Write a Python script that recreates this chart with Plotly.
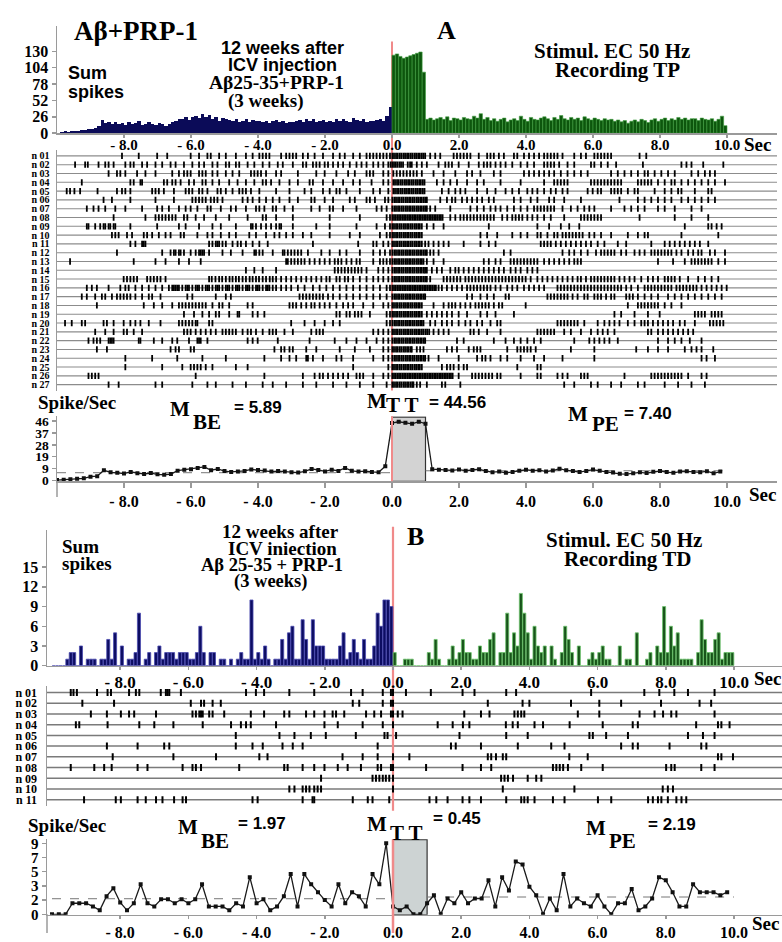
import numpy as np
import plotly.graph_objects as go

# ======================= DATA =======================
# ---- Panel A : Sum spikes, 0.1 s bins (-10..0 and 0..10 s)
HIST_A_PRE = [0, 2, 3, 2, 3, 3, 4, 5, 5, 7, 6, 8, 12, 21, 16, 17, 15, 18, 14, 16, 13,
              17, 14, 16, 20, 13, 15, 18, 14, 13, 16, 15, 12, 14, 17, 20, 23, 22, 25, 21, 26,
              27, 24, 30, 25, 29, 22, 26, 20, 24, 22, 21, 19, 23, 18, 20, 22, 17, 21, 19, 20,
              18, 20, 16, 19, 21, 17, 19, 16, 18, 17, 19, 21, 18, 23, 20, 22, 17, 19, 21, 18,
              20, 17, 22, 19, 23, 20, 18, 24, 21, 19, 22, 18, 20, 19, 21, 23, 20, 27, 42]
HIST_A_POST = [124, 126, 122, 119, 121, 123, 125, 127, 129, 97,
               22, 24, 21, 23, 25, 22, 26, 20, 24, 23,
               21, 25, 23, 22, 27, 24, 31, 22, 25, 20,
               23, 19, 22, 24, 18, 21, 23, 20, 27, 22,
               19, 25, 22, 21, 24, 26, 23, 20, 25, 22,
               28, 23, 21, 25, 22, 24, 20, 26, 23, 21,
               24, 22, 20, 23, 21, 22, 19, 21, 18, 20,
               16, 19, 21, 18, 22, 20, 17, 21, 23, 19,
               22, 24, 20, 23, 21, 25, 22, 24, 21, 23,
               23, 20, 24, 22, 21, 23, 19, 22, 27, 12]
# ---- Panel A : Spike/Sec, 0.2 s bins
RATE_A_PRE = [0.2, 0.5, 0.8, 1.2, 1.5, 2.8, 3.2, 7.8, 6.2, 5.8,
              5.3, 6.5, 5.5, 4.9, 5.6, 4.6, 4.3, 4.8, 7.5, 8.2,
              8.5, 9.6, 10.4, 7.8, 8.8, 7.2, 6.5, 6.9, 7.3, 8.4,
              8.0, 7.6, 6.8, 7.2, 6.9, 6.3, 6.0, 7.0, 8.8, 8.0,
              6.9, 8.2, 7.3, 9.6, 7.4, 6.8, 7.1, 6.5, 6.2, 11.0]
RATE_A_POST = [44.5, 45.5, 44.8, 43.9, 45.6, 44.0,
               8.6, 8.2, 8.0, 7.7, 8.3, 7.5, 8.0, 8.6, 7.2, 6.3,
               6.8, 5.8, 6.5, 7.4, 8.2, 7.5, 7.9, 6.8, 7.6, 9.0,
               7.8, 7.2, 6.4, 7.3, 8.3, 7.4, 6.5, 6.0, 5.0, 4.8,
               5.5, 6.2, 5.6, 6.6, 7.2, 6.4, 5.8, 6.8, 7.0, 6.5,
               6.2, 7.1, 5.4, 6.8]
M_A_BE, M_A_TT, M_A_PE = 5.89, 44.56, 7.40

# ---- Panel A raster: spike times (centiseconds) of neurons n01..n27
RASTER_A = [
    [-806,-756,-701,-671,-601,-576,-551,-541,-516,-496,-466,-436,-416,-396,-386,-376,-366,-331,-316,-306,-296,-286,-266,-251,-231,-206,-176,-156,-141,-116,-96,-76,-66,-56,-46,-36,-26,-16,-6,
     1,6,12,17,23,28,34,39,45,50,56,61,67,72,78,83,89,94,99,114,129,144,184,194,204,214,224,234,259,284,294,304,319,334,364,374,394,409,424,439,454,464,474,484,494,509,544,564,579,604,614,624,634,644,654,739,759],
    [-946,-916,-908,-876,-856,-846,-831,-796,-781,-771,-746,-731,-706,-686,-661,-646,-621,-596,-576,-561,-536,-521,-496,-486,-466,-456,-431,-411,-386,-366,-341,-326,-296,-266,-256,-236,-226,-216,-201,-191,-176,-161,-146,-126,-106,-91,-76,-56,-41,-26,-11,-4,
     1,6,11,16,22,27,33,47,54,59,74,89,104,139,159,169,179,199,229,259,274,284,294,309,324,339,359,384,404,424,454,464,474,484,499,524,544,594,604,624,644,669,749,864,879,894,929,989],
    [-846,-821,-811,-796,-761,-736,-706,-656,-636,-621,-611,-601,-576,-566,-556,-536,-521,-496,-476,-456,-421,-411,-401,-391,-376,-346,-331,-281,-226,-201,-166,-131,-111,-76,-66,-56,-26,-11,
     4,14,24,34,44,54,64,74,89,124,154,189,224,239,264,304,324,394,409,424,439,454,469,484,504,524,544,564,584,654,674,694,714,734,754,764,784,804,824,844,894,914,934,949,964],
    [-926,-781,-771,-751,-746,-681,-671,-656,-646,-631,-606,-591,-566,-556,-536,-516,-486,-461,-436,-411,-386,-376,-361,-336,-306,-281,-246,-236,-206,-176,-146,-116,-96,-61,-26,-11,
     4,9,15,20,26,31,37,42,48,53,59,64,70,75,81,86,92,97,134,154,174,194,224,254,274,324,384,454,484,494,504,514,524,594,604,614,624,634,644,654,664,674,684,734,744,754,764,774,794,814,834,844,864,884,904,924,944,964,994],
    [-971,-961,-948,-931,-879,-821,-806,-796,-781,-716,-706,-696,-681,-651,-616,-606,-596,-576,-566,-551,-521,-511,-496,-476,-456,-446,-436,-421,-396,-346,-306,-261,-241,-206,-186,-166,-156,-136,-96,-56,-36,-11,
     4,9,15,20,26,31,37,42,48,53,59,64,70,75,81,86,92,97,149,169,189,204,219,254,284,309,339,359,379,404,419,434,454,474,489,509,524,584,599,614,624,654,664,674,684,704,724,734,784,814,834,854,864,904,944,954],
    [-861,-836,-781,-706,-651,-596,-586,-576,-566,-556,-541,-531,-521,-506,-446,-431,-416,-396,-376,-356,-336,-306,-281,-241,-231,-201,-176,-126,-111,-76,-66,-51,-21,-11,
     1,7,12,18,23,29,34,40,45,51,56,62,67,73,78,84,89,95,100,104,144,164,179,189,209,224,239,254,269,289,304,364,384,414,434,469,484,514,564,679,734,754,774,794,814,834,864,884,904,924,944,964],
    [-911,-891,-876,-856,-826,-796,-746,-701,-686,-666,-636,-616,-601,-581,-551,-541,-511,-481,-466,-436,-406,-396,-381,-356,-346,-321,-296,-241,-216,-186,-176,-146,-106,-46,-31,-16,
     1,7,12,18,23,29,34,40,45,51,56,62,67,73,78,84,89,95,100,104,114,129,174,234,254,274,294,309,324,344,364,384,404,424,434,444,454,464,474,484,509,534,554,574,589,604,654,694,714,734,754,794,814,844,894,924],
    [-831,-736,-706,-696,-686,-676,-666,-656,-646,-621,-611,-586,-561,-526,-486,-431,-386,-376,-346,-296,-186,-96,-16,-6,
     1,6,11,16,21,26,31,36,41,46,51,56,61,66,71,76,81,86,91,96,101,106,111,116,121,126,131,136,141,146,151,174,189,204,214,224,234,244,254,264,274,284,294,304,329,344,359,369,379,389,404,419,434,454,474,514,564,574,584,594,604,614,624,739,844,894,944],
    [-911,-906,-886,-871,-861,-856,-846,-841,-831,-826,-781,-701,-636,-616,-576,-536,-511,-466,-421,-416,-406,-391,-376,-361,-346,-336,-331,-296,-226,-186,-106,-46,-21,-6,
     1,6,12,17,23,28,34,39,45,50,56,61,67,72,78,83,89,104,124,154,289,434,469,504,529,559,874,944,954,969,984],
    [-836,-826,-816,-791,-776,-741,-731,-716,-696,-676,-661,-631,-621,-581,-551,-536,-511,-486,-466,-426,-406,-376,-351,-336,-316,-296,-266,-241,-186,-126,-96,-36,-16,-6,
     1,6,12,17,23,28,34,39,45,50,56,61,67,72,78,83,89,264,284,314,359,384,404,434,444,464,484,494,509,519,529,539,549,559,569,589,604,624,654,704,734,754,764,864,974],
    [-781,-766,-746,-741,-736,-546,-536,-526,-521,-516,-506,-496,-476,-461,-451,-436,-416,-396,-371,-236,-101,-56,-46,-26,-11,
     1,6,12,17,23,28,34,39,45,50,56,61,67,72,78,83,89,99,109,124,139,154,169,214,264,289,309,444,454,464,474,489,504,519,534,549,564,579,594,614,634,674,699,774,814,829,844,859,874,889,904,919,944],
    [-821,-686,-661,-651,-646,-636,-631,-621,-601,-586,-576,-571,-566,-561,-546,-506,-481,-446,-411,-406,-396,-386,-356,-326,-321,-311,-301,-291,-281,-271,-251,-211,-186,-156,-136,-96,-56,-36,-21,-6,
     1,7,12,18,23,29,34,40,45,51,56,62,67,73,78,84,89,95,100,104,114,124,139,334,354,509,529,544,564,584,609,624,634,644,654,664,684,699,724,739,754,774,784,794,804,814,824,834,849,864,884,899,914,924,949,964,994],
    [-961,-771,-706,-676,-636,-606,-571,-316,-311,-301,-291,-281,-271,-261,-246,-231,-216,-201,-186,-171,-161,-151,-136,-121,-106,-96,-56,-36,-26,-16,-6,
     1,7,12,18,23,29,34,40,45,51,56,62,67,73,78,84,89,94,104,124,154,274,289,309,324,354,364,374,384,394,404,414,424,434,454,469,484,499,514,529,544,554,564,794,839,874,894,904,914,924,934,944,954,974,994],
    [-436,-411,-386,-346,-171,-161,-151,-141,-131,-121,-111,-101,-91,-76,-41,-26,-11,
     1,7,12,18,23,29,34,40,45,51,56,62,67,73,78,84,89,95,99,104,119,134,149,174,189,199,214,229,244,259,274,289,304,319,334,354,369,384,404,419,434],
    [-801,-791,-781,-771,-761,-731,-721,-711,-701,-691,-676,-546,-538,-527,-516,-507,-496,-485,-476,-466,-457,-446,-436,-425,-416,-406,-397,-386,-376,-365,-356,-346,-331,-316,-301,-286,-271,-256,-241,-226,-211,-196,-186,-166,-156,-141,-131,-116,-96,-76,-56,-41,-26,-11,
     1,7,12,18,23,29,34,40,45,51,56,62,67,73,78,84,89,95,100,104,114,154,164,174,184,194,204,219,229,239,249,259,269,279,289,299,309,319,329,339,349,359,369,379,389,399,414,434,449,464,479,494,509,524,539,554,564,579,594,604,614,624,634,644,654,664,679,694,709,724,744,764,779,794,814,824,834,844,859,884,914,934,954,974],
    [-911,-896,-881,-846,-811,-796,-786,-766,-746,-726,-706,-686,-666,-656,-651,-646,-641,-636,-626,-616,-611,-606,-596,-586,-581,-576,-566,-556,-551,-546,-536,-526,-521,-516,-506,-496,-491,-486,-476,-466,-461,-456,-446,-436,-431,-426,-416,-406,-401,-396,-386,-376,-371,-366,-356,-346,-331,-316,-301,-281,-261,-236,-216,-196,-176,-156,-136,-116,-96,-76,-56,-36,-16,-6,
     1,6,11,16,21,26,31,36,41,46,51,56,61,66,71,76,81,86,91,96,101,106,111,116,121,126,131,139,149,164,179,194,209,224,234,244,254,264,274,284,294,309,324,344,359,374,394,409,424,439,454,494,504,514,524,534,544,554,564,574,584,594,604,614,624,634,644,654,664,674,684,699,714,734,754,764,774,784,794,804,814,824,834,849,859,869,879,889,899,909,924,939,954,969,984,999],
    [-926,-911,-886,-866,-856,-836,-821,-811,-801,-791,-781,-766,-746,-726,-716,-691,-611,-596,-526,-496,-481,-276,-266,-256,-246,-236,-226,-216,-206,-191,-176,-156,-136,-116,-96,-76,-56,-36,-16,
     1,7,12,18,23,29,34,40,45,51,56,62,67,73,78,84,89,95,99,224,239,264,284,304,339,349,464,474,484,494,504,514,524,539,554,574,584,604,614,624,639,654,664,699,709,719,734,754,774,794,824,844,864,884,904,924,944,964,984],
    [-881,-741,-711,-686,-656,-636,-626,-616,-606,-596,-586,-576,-566,-556,-536,-516,-506,-486,-431,-416,-306,-296,-286,-271,-256,-241,-231,-216,-201,-186,-166,-146,-131,-116,-86,-56,-26,-11,
     1,6,12,17,23,28,34,39,45,50,56,61,67,72,78,83,89,124,154,169,179,189,204,219,234,249,259,269,279,289,304,319,329,399,704,734,744,754,764,774,784,794,814,834,864],
    [-621,-591,-566,-546,-526,-516,-486,-461,-456,-416,-401,-381,-166,-156,-136,-126,-111,-101,-91,-66,-16,-6,
     1,6,12,17,23,28,34,39,45,50,56,61,67,72,78,83,89,104,119,134,149,164,179,199,224,264,284,309,364,664,684,724,764,799,904,914,924,934,954,964,974,984],
    [-976,-956,-926,-916,-861,-851,-831,-801,-781,-766,-751,-726,-691,-636,-626,-616,-606,-596,-586,-581,-546,-536,-301,-261,-231,-201,-176,-156,-16,-6,
     1,7,12,18,23,29,34,40,45,51,56,62,67,73,78,84,89,94,114,129,149,164,179,199,219,234,254,269,294,314,324,494,504,514,524,534,544,554,574,614,634,649,664,679,704,724,744,754,764,779,794,809,824,839,859,874,904,949,959,969,979,989],
    [-886,-856,-831,-801,-791,-771,-746,-621,-611,-601,-586,-571,-556,-541,-526,-506,-496,-486,-476,-466,-446,-431,-421,-406,-386,-366,-356,-346,-321,-296,-241,-226,-216,-206,-56,-41,-26,-11,
     1,6,12,17,23,28,34,39,45,50,56,61,67,72,78,83,89,94,100,105,111,124,139,154,169,234,244,259,284,324,434,444,454,464,474,484,514,534,564,594,614,629,644,664,764,774,794,809,824,839,854,869,884,899],
    [-906,-891,-881,-871,-846,-841,-836,-831,-756,-751,-711,-686,-656,-641,-606,-581,-576,-571,-551,-431,-416,-401,-341,-246,-171,-136,-106,-76,-46,-26,-11,
     1,7,12,18,23,29,34,40,45,51,56,62,67,73,78,84,89,95,99,194,214,304,339,364,384,404,424,444,544,589,604,619,634,649,674,794,824,844,864,889,924],
    [-881,-851,-661,-646,-636,-601,-591,-351,-331,-321,-306,-296,-256,-226,-156,-111,-66,-26,-11,
     1,6,12,17,23,28,34,39,45,50,56,59,74,84,94,164,179,194,229,244,254,264,344,374,384,394,404,414,429,534,604,729,764,794,824,874,894,909,924,959],
    [-796,-716,-641,-566,-496,-381,-331,-306,-286,-256,-251,-236,-206,-166,-151,-116,-56,-26,-11,
     1,7,12,18,23,29,34,40,45,51,56,62,67,73,78,84,89,95,99,109,139,199,254,269,279,294,324,344,384,424,454,509,604,924,939,964],
    [-796,-686,-626,-601,-591,-581,-571,-556,-536,-466,-431,-116,-11,
     1,6,12,17,23,28,34,39,45,50,56,61,67,72,78,83,89,149,164,174,184,199,214,224,374,434,444],
    [-906,-896,-886,-876,-586,-381,-266,-231,-216,-206,-191,-176,-161,-146,-131,-106,-96,-86,-56,-26,-11,
     1,6,11,16,21,26,31,36,41,46,51,56,61,66,71,76,81,86,91,96,101,106,111,116,121,126,131,136,141,146,151,156,161,166,171,176,181,199,239,249,259,269,279,289,299,314,324,384,434,444,494,509,524,564,574,584,694,774,784,794,804,814,824,834,844,854,864,884,924,939],
    [-846,-816,-706,-686,-596,-551,-526,-476,-436,-386,-356,-316,-266,-226,-176,-136,-96,-56,-16,
     1,6,12,17,23,28,34,39,45,50,56,61,64,74,84,104,149,159,204,514,544,594,614,654,684,734,754,814,854,894,934],
]
ROW_LABELS_A = ["n 01", "n 02", "n 03", "n 04", "n 05", "n 06", "n 07", "n 08", "n 09",
                "n 10", "n 11", "n 12", "n 13", "n 14", "n 15", "n 16", "n 17", "n 18",
                "n 19", "n 20", "n 21", "n 22", "n 23", "n 24", "n 25", "n 26", "n 27"]

# ---- Panel B : Sum spikes, 0.1 s bins
HIST_B_PRE = [0, 0, 0, 0, 1, 2, 2, 0, 3, 0,
              1, 1, 1, 0, 1, 1, 4, 1, 5, 0,
              3, 0, 1, 1, 2, 8, 0, 1, 2, 0,
              2, 3, 1, 2, 2, 2, 1, 2, 2, 2,
              1, 1, 2, 6, 2, 0, 2, 2, 0, 1,
              1, 0, 1, 0, 1, 2, 1, 1, 10, 1,
              2, 1, 3, 1, 0, 1, 1, 4, 1, 5,
              6, 1, 1, 7, 4, 1, 7, 3, 3, 3,
              1, 1, 1, 1, 3, 5, 1, 2, 4, 2,
              1, 4, 1, 1, 3, 8, 6, 10, 10, 9]
HIST_B_POST = [2, 0, 0, 1, 1, 1, 0, 0, 0, 0,
               2, 1, 4, 1, 0, 0, 1, 3, 1, 2,
               4, 2, 2, 1, 1, 3, 2, 2, 4, 5,
               0, 2, 2, 8, 2, 5, 3, 11, 8, 5,
               1, 6, 3, 2, 3, 0, 3, 1, 0, 2,
               6, 4, 2, 0, 3, 0, 0, 1, 2, 1,
               2, 3, 1, 1, 0, 0, 3, 0, 1, 1,
               0, 5, 0, 0, 1, 2, 0, 3, 2, 9,
               2, 6, 3, 5, 1, 1, 1, 1, 0, 2,
               7, 4, 2, 2, 4, 5, 1, 2, 2, 2]
# ---- Panel B : Spike/Sec, 0.2 s bins
RATE_B_PRE = [0, 0, 0, 1.4, 1.4, 1.4, 1.0, 0.5, 2.3, 3.3,
              1.5, 0.5, 1.4, 3.8, 1.4, 1.0, 1.9, 1.9, 1.4, 1.9,
              1.4, 1.9, 3.8, 1.0, 1.0, 1.0, 0.5, 1.4, 1.0, 4.7,
              1.4, 1.9, 0.5, 1.0, 2.3, 5.1, 1.0, 5.1, 3.8, 2.8,
              1.8, 1.0, 3.8, 1.4, 2.8, 2.3, 1.0, 5.1, 3.8, 9.0]
RATE_B_POST = [1.0, 0.5, 1.0, 0, 0, 1.4, 2.4, 0, 2.0, 1.4,
               2.8, 1.4, 2.0, 2.0, 4.3, 1.0, 4.7, 3.0, 6.7, 6.3,
               3.5, 2.4, 0, 2.0, 0.5, 5.1, 1.0, 2.0, 1.4, 1.0,
               2.4, 1.0, 0, 1.4, 1.4, 3.2, 0.5, 1.0, 2.0, 4.7,
               4.3, 2.8, 1.0, 1.0, 3.8, 2.8, 2.8, 2.8, 2.4, 2.8]
M_B_BE, M_B_TT, M_B_PE = 1.97, 0.45, 2.19

RASTER_B = [
    [-945,-937,-927,-868,-837,-827,-774,-754,-744,-681,-666,-661,-656,-622,-431,-402,-378,-304,-231,-123,-89,-30,-6, 0,38,111,204,239,332,361,581,737,781,825,865,943],
    [-911,-818,-593,-563,-554,-529,-505,-118,-99,-30,-6, 0,278,380,400,522,605,669,786,899,933],
    [-886,-839,-798,-774,-759,-695,-588,-578,-568,-563,-558,-539,-529,-495,-417,-378,-319,-304,-255,-231,-201,-177,-167,-143,-79,-55,-35,-6, 0,14,28,209,258,283,356,366,376,385,542,605,723,767,792,816,831,943],
    [-930,-920,-837,-744,-700,-644,-558,-475,-446,-431,-417,-343,-201,-162,-89,-30, 0,131,175,205,224,331,351,366,415,440,518,615,703,718,889,953,963,987],
    [-461,-333,-289,-241,-197,-109,-25,-16, 9,195,332,395,576,586,625,689,865,909,943],
    [-839,-749,-671,-656,-461,-412,-382,-324,-294,-265,-45, 170,184,258,366,464,503,669,703,718,811,904,919],
    [-822,-644,-519,-392,-368,-148,-89,-45, 0,48,278,288,302,322,332,517,571,953,963,997],
    [-945,-876,-847,-825,-749,-720,-617,-588,-578,-563,-451,-319,-309,-265,-231,-201,-162,-133,-94,-45,-35,-6, 0,97,204,258,288,469,479,489,499,513,552,615,801,816,826,904,943],
    [-211,-60,-50,-40,-30,-21,-11, 0,317,327,337,352,395,420,435],
    [-304,-289,-265,-255,-245,-231,-221,-211, 0,322,532,791,806,821],
    [-906,-813,-798,-749,-725,-695,-676,-642,-617,-607,-412,-397,-265,-236,-231,-118,-74,-60,-11, 107,127,160,204,224,258,332,376,385,395,415,469,503,601,640,748,762,777,787,806,831,846,860],
]
ROW_LABELS_B = ["n 01", "n 02", "n 03", "n 04", "n 05", "n 06", "n 07", "n 08", "n 09", "n 10", "n 11"]

X_TICKS = [-8, -6, -4, -2, 0, 2, 4, 6, 8, 10]
X_TICK_TEXT = ["- 8.0", "- 6.0", "- 4.0", "- 2.0", "0.0", "2.0", "4.0", "6.0", "8.0", "10.0"]
HIST_A_YTICKS = [0, 26, 52, 78, 104, 130]
HIST_B_YTICKS = [0, 3, 6, 9, 12, 15]
RATE_A_YTICKS = [0, 9.2, 18.4, 27.6, 36.8, 46]
RATE_A_YTEXT = ["0", "9", "19", "28", "37", "46"]
RATE_B_YTICKS = [0, 1.8, 3.6, 5.4, 7.2, 9.0]
RATE_B_YTEXT = ["0", "2", "3", "5", "7", "9"]

# ======================= LAYOUT HELPERS =======================
W, H = 782, 942
SERIF = "Liberation Serif"
SANS = "Liberation Sans"
AX = "#9a9a9a"
RED = "#f08a8a"


def fx(p):
    return p / W


def fy(p):
    return 1 - p / H


# pixel geometry (positions only)
A_L, A_R, A_ZERO = 57, 777, 392
B_L, B_R, B_ZERO = 47, 782, 393
SC_A, SC_B = 33.5, 34.1
XR_A = [(A_L - A_ZERO) / SC_A, (A_R - A_ZERO) / SC_A]
XR_B = [(B_L - B_ZERO) / SC_B, (B_R - B_ZERO) / SC_B]

fig = go.Figure()

hist_pre_x = -10 + 0.1 * np.arange(len(HIST_A_PRE)) + 0.05
hist_post_x = 0.1 * np.arange(len(HIST_A_POST)) + 0.05
rate_pre_t = -10 + 0.2 * np.arange(len(RATE_A_PRE))
rate_post_t = 0.2 * np.arange(len(RATE_A_POST))


def bars(x, y, xa, ya, fill, edge, ew, width):
    fig.add_trace(go.Bar(x=x, y=y, xaxis=xa, yaxis=ya, width=width,
                         marker=dict(color=fill, line=dict(color=edge, width=ew)),
                         showlegend=False, hoverinfo="skip"))


def raster(rows, xa, ya, size, lw):
    xs, ys = [], []
    for k, row in enumerate(rows):
        xs += [c / 100 for c in row]
        ys += [k + 1] * len(row)
    fig.add_trace(go.Scatter(x=xs, y=ys, xaxis=xa, yaxis=ya, mode="markers",
                             marker=dict(symbol="line-ns", size=size, line=dict(width=lw, color="black")),
                             showlegend=False, hoverinfo="skip"))


def rate(pre, post, xa, ya):
    t = list(rate_pre_t) + list(rate_post_t)
    v = list(pre) + list(post)
    fig.add_trace(go.Scatter(x=t, y=v, xaxis=xa, yaxis=ya, mode="lines+markers",
                             line=dict(color="#1a1a1a", width=1.3),
                             marker=dict(symbol="square", size=4, color="#111"),
                             showlegend=False, hoverinfo="skip"))


# --- traces panel A
bars(hist_pre_x, HIST_A_PRE, "x", "y", "#0b0b58", "#0b0b58", 0, 0.1)
bars(hist_post_x, HIST_A_POST, "x", "y", "#0d560d", "#3f9f3f", 0.6, 0.1)
raster(RASTER_A, "x2", "y2", 4.5, 1.8)
rate(RATE_A_PRE, RATE_A_POST, "x3", "y3")
# --- traces panel B
bars(hist_pre_x, HIST_B_PRE, "x4", "y4", "#0d0d62", "#4a4ab0", 0.8, 0.09)
bars(hist_post_x, HIST_B_POST, "x4", "y4", "#18541a", "#6cc46c", 0.8, 0.09)
raster(RASTER_B, "x5", "y5", 5, 2.0)
rate(RATE_B_PRE, RATE_B_POST, "x6", "y6")


def xcfg(dom, rng, anchor, show=True, ticklen=4, fs=15, standoff=None):
    d = dict(domain=dom, range=rng, anchor=anchor, showgrid=False, zeroline=False, fixedrange=True)
    if show:
        d.update(showline=True, linecolor=AX, linewidth=1.5, ticks="outside", ticklen=ticklen,
                 tickwidth=1.5, tickcolor=AX, tickvals=X_TICKS, ticktext=X_TICK_TEXT,
                 tickfont=dict(family=SERIF, size=fs, color="black", weight="bold"))
        if standoff is not None:
            d["ticklabelstandoff"] = standoff
    else:
        d.update(visible=False)
    return d


def ycfg(dom, rng, anchor, vals, text=None, fs=15, standoff=None, ticks="outside"):
    d = dict(domain=dom, range=rng, anchor=anchor, showgrid=False, zeroline=False, fixedrange=True,
             showline=True, linecolor=AX, linewidth=1.5, ticks=ticks, ticklen=4, tickwidth=1.5,
             tickcolor=AX, tickvals=vals, tickfont=dict(family=SERIF, size=fs, color="black", weight="bold"))
    if text is not None:
        d["ticktext"] = text
    if standoff is not None:
        d["ticklabelstandoff"] = standoff
    return d


domA = [fx(A_L), fx(A_R)]
domB = [fx(B_L), fx(B_R)]
fig.update_layout(
    xaxis=xcfg(domA, XR_A, "y", ticklen=3, fs=15, standoff=-6),
    yaxis=ycfg([fy(131), fy(22)], [0, 170.8], "x", HIST_A_YTICKS, fs=16),
    xaxis2=xcfg(domA, XR_A, "y2", show=False),
    yaxis2=ycfg([fy(392.2), fy(147.8)], [27.7, 0.3], "x2", list(range(1, 28)), ROW_LABELS_A,
                fs=10, standoff=4, ticks=""),
    xaxis3=xcfg(domA, XR_A, "y3", ticklen=5, fs=16),
    yaxis3=ycfg([fy(484), fy(418)], [-0.8, 49.8], "x3", RATE_A_YTICKS, RATE_A_YTEXT, fs=13.5),
    xaxis4=xcfg(domB, XR_B, "y4", ticklen=3, fs=17, standoff=-3),
    yaxis4=ycfg([fy(671), fy(533)], [0, 20.7], "x4", HIST_B_YTICKS, fs=16),
    xaxis5=xcfg(domB, XR_B, "y5", show=False),
    yaxis5=ycfg([fy(813.5), fy(691.5)], [11.6, 0.4], "x5", list(range(1, 12)), ROW_LABELS_B,
                fs=12, standoff=6, ticks=""),
    xaxis6=xcfg(domB, XR_B, "y6", ticklen=3, fs=16),
    yaxis6=ycfg([fy(923.5), fy(847)], [-0.06, 9.5], "x6", RATE_B_YTICKS, RATE_B_YTEXT, fs=15),
)

shapes = []
# raster row lines
for k in range(1, len(RASTER_A) + 1):
    shapes.append(dict(type="line", xref="x2 domain", yref="y2", x0=0, x1=1, y0=k, y1=k,
                       line=dict(color="#8c8c8c", width=1.1), layer="below"))
for k in range(1, len(RASTER_B) + 1):
    shapes.append(dict(type="line", xref="x5 domain", yref="y5", x0=0, x1=1, y0=k, y1=k,
                       line=dict(color="#7a7a7a", width=1.5), layer="below"))
# stimulation window boxes
shapes.append(dict(type="rect", xref="x3", yref="y3", x0=0, x1=1, y0=-0.8, y1=49.1,
                   fillcolor="#d3d3d3", line=dict(color="#333", width=1.2), layer="below"))
shapes.append(dict(type="rect", xref="x6", yref="y6", x0=0, x1=1, y0=-0.06, y1=9.45,
                   fillcolor="#cdd3d3", line=dict(color="#333", width=1.2), layer="below"))
# mean dashed lines
for xa, ya, x0, x1, m in [("x3", "y3", -10, 0, M_A_BE), ("x3", "y3", 1, 10, M_A_PE),
                          ("x6", "y6", -10, 0, M_B_BE), ("x6", "y6", 1, 10, M_B_PE)]:
    shapes.append(dict(type="line", xref=xa, yref=ya, x0=x0, x1=x1, y0=m, y1=m,
                       line=dict(color="#777", width=1, dash="dash"), layer="below"))
# stimulus onset red line
shapes.append(dict(type="line", xref="x2", yref="paper", x0=0, x1=0, y0=fy(392), y1=fy(38),
                   line=dict(color=RED, width=2), layer="below"))
shapes.append(dict(type="line", xref="x3", yref="paper", x0=0, x1=0, y0=fy(484), y1=fy(418),
                   line=dict(color=RED, width=2), layer="above"))
shapes.append(dict(type="line", xref="x5", yref="paper", x0=0, x1=0, y0=fy(818), y1=fy(530),
                   line=dict(color=RED, width=2.2), layer="below"))
shapes.append(dict(type="line", xref="x6", yref="paper", x0=0, x1=0, y0=fy(942), y1=fy(847),
                   line=dict(color=RED, width=2.5), layer="above"))
# axis extensions below zero
shapes.append(dict(type="line", xref="paper", yref="paper", x0=fx(A_L), x1=fx(A_L), y0=fy(500), y1=fy(484),
                   line=dict(color=AX, width=1.5)))
shapes.append(dict(type="line", xref="paper", yref="paper", x0=fx(B_L), x1=fx(B_L), y0=fy(942), y1=fy(923),
                   line=dict(color=AX, width=1.5)))
fig.update_layout(shapes=shapes)


def txt(s, x, y, size, family=SERIF, xanchor="center"):
    fig.add_annotation(text="<b>" + s + "</b>", x=fx(x), y=fy(y), xref="paper", yref="paper",
                       xanchor=xanchor, yanchor="middle", showarrow=False,
                       font=dict(family=family, size=size, color="black"))


# ---- panel A texts
txt("Aβ+PRP-1", 136, 27, 27)
txt("A", 446, 27, 26)
txt("Sum", 66, 70, 18, SANS, "left")
txt("spikes", 66, 89, 18, SANS, "left")
txt("12 weeks after", 282, 45, 18, SANS)
txt("ICV injection", 282, 62, 18, SANS)
txt("Aβ25-35+PRP-1", 276, 80, 19.5)
txt("(3 weeks)", 265, 98, 19)
txt("Stimul. EC 50 Hz", 612, 48, 21)
txt("Recording TP", 617, 67, 21)
txt("Sec", 757, 142, 19)
txt("Spike/Sec", 77, 404, 19)
txt("M", 180, 411, 21)
txt("BE", 207, 424, 21)
txt("= %.2f" % M_A_BE, 258, 409, 17, SANS)
txt("M", 377, 403, 21)
txt("T T", 402, 407, 21)
txt("= %.2f" % M_A_TT, 457, 404, 17, SANS)
txt("M", 578, 416, 21)
txt("PE", 605, 426, 21)
txt("= %.2f" % M_A_PE, 648, 415, 17, SANS)
txt("Sec", 762, 497, 19)

# ---- panel B texts
txt("Sum", 60, 550, 19, SERIF, "left")
txt("spikes", 60, 567, 19, SERIF, "left")
txt("12 weeks after", 280, 535, 19)
txt("ICV iniection", 282, 552, 19)
txt("Aβ 25-35 + PRP-1", 272, 569, 18.5)
txt("(3 weeks)", 270, 586, 18.5)
txt("B", 415, 540, 26)
txt("Stimul. EC 50 Hz", 624, 543, 21)
txt("Recording TD", 627, 563, 21)
txt("Sec", 767, 684, 19)
txt("Spike/Sec", 67, 833, 19)
txt("M", 188, 835, 21)
txt("BE", 215, 849, 21)
txt("= %.2f" % M_B_BE, 262, 831, 17, SANS)
txt("M", 377, 831, 21)
txt("T T", 406, 841, 21)
txt("= %.2f" % M_B_TT, 457, 826, 17, SANS)
txt("M", 596, 836, 21)
txt("PE", 622, 849, 21)
txt("= %.2f" % M_B_PE, 672, 832, 17, SANS)
txt("Sec", 765, 932, 19)

fig.update_layout(width=W, height=H, margin=dict(l=0, r=0, t=0, b=0),
                  paper_bgcolor="white", plot_bgcolor="rgba(0,0,0,0)",
                  showlegend=False, barmode="overlay", bargap=0)

fig.write_html("out.html", config={"displayModeBar": False, "staticPlot": True},
               post_script="document.body.style.margin='0px';document.body.style.overflow='hidden';")
